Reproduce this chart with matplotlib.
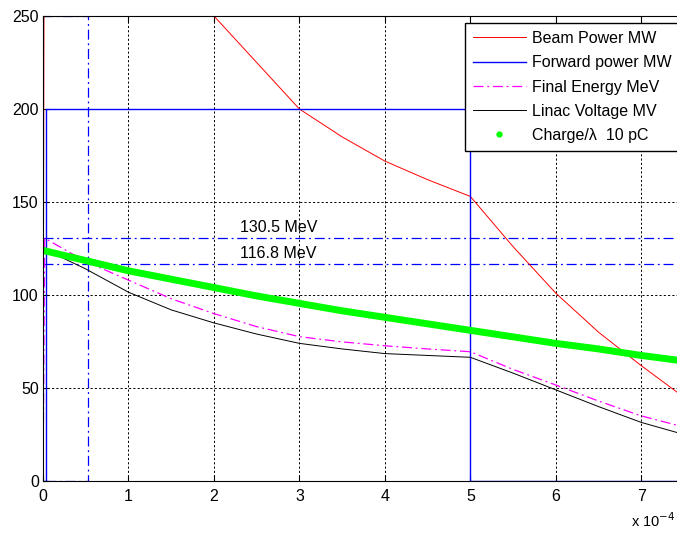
import matplotlib
matplotlib.use("Agg")
import matplotlib.pyplot as plt
from matplotlib.lines import Line2D

plt.rcParams['font.family'] = ['Liberation Sans', 'DejaVu Sans']

# time axis in units of 1e-4
beam_t = [0, 0.02, 0.5, 1.0, 1.5, 2.0, 2.5, 3.0, 3.5, 4.0, 4.5, 5.0, 5.5, 6.0, 6.5, 7.0, 7.5]
beam_p = [0, 450, 370, 320, 282, 250, 225, 200, 185, 172, 162, 153, 126, 101, 80, 62, 45]

fwd_t = [0, 0.03, 0.03, 5.0, 5.0, 7.5]
fwd_p = [0, 0, 200, 200, 0, 0]

energy_t = [0, 0.02, 0.5, 1.0, 1.5, 2.0, 2.5, 3.0, 3.5, 4.0, 4.5, 5.0, 5.5, 6.0, 6.5, 7.0, 7.5]
energy = [0, 130.5, 118, 108, 98, 90, 83, 77.6, 74.8, 72.7, 71, 69.5, 60, 51.6, 43, 35, 29]

volt_t = [0, 0.5, 1.0, 1.5, 2.0, 2.5, 3.0, 3.5, 4.0, 4.5, 5.0, 5.5, 6.0, 6.5, 7.0, 7.5]
volt = [125, 114, 101.5, 92, 85, 79, 74, 71, 68.5, 67.5, 66.5, 58, 49, 40, 31.5, 25]

charge_t = [0, 0.5, 1.0, 1.5, 2.0, 2.5, 3.0, 3.5, 4.0, 4.5, 5.0, 5.5, 6.0, 6.5, 7.0, 7.5]
charge = [124, 118.5, 113, 108.5, 104, 99.5, 95.5, 91.5, 88, 84.5, 81, 77.5, 74, 71, 67.5, 64.5]

window_t = 0.53
window_top = 250
e_levels = [130.5, 116.8]
e_labels = ['130.5 MeV', '116.8 MeV']

xticks = [0, 1, 2, 3, 4, 5, 6, 7]
yticks = [0, 50, 100, 150, 200, 250]

fs = 11.5
fig = plt.figure(figsize=(6.77, 5.33), dpi=100)
ax = fig.add_axes([43 / 677, 52 / 533, 641 / 677, 465 / 533])

ax.set_xlim(0, 7.5)
ax.set_ylim(0, 250)
ax.set_xticks(xticks)
ax.set_yticks(yticks)
ax.tick_params(direction='in', length=4, top=True, right=True, labelsize=fs)
ax.tick_params(axis='x', pad=6)
ax.tick_params(axis='y', pad=3)
ax.grid(True, color='black', linestyle=(0, (2.2, 2.2)), linewidth=0.7)

dashdot = (0, (8, 3, 1.5, 3))
# energy window box and levels
ax.plot([0, window_t, window_t, 0], [window_top, window_top, 0, 0],
        color='blue', linestyle=dashdot, linewidth=0.9)
for lev, lab in zip(e_levels, e_labels):
    ax.axhline(lev, color='blue', linestyle=dashdot, linewidth=0.9)
    ax.text(2.3, lev + 1.5, lab, fontsize=fs, va='bottom', ha='left')

ax.plot(beam_t, beam_p, color='red', linewidth=0.7, label='Beam Power MW')
ax.plot(fwd_t, fwd_p, color='blue', linewidth=1.0, label='Forward power MW')
ax.plot(energy_t, energy, color='magenta', linestyle=dashdot, linewidth=0.9,
        label='Final Energy MeV')
ax.plot(volt_t, volt, color='black', linewidth=0.7, label='Linac Voltage MV')
ax.plot(charge_t, charge, color='#00ff00', linewidth=5.0, solid_capstyle='butt')

handles, labels = ax.get_legend_handles_labels()
handles.append(Line2D([], [], color='#00ff00', marker='.', linestyle='none', markersize=7))
labels.append('Charge/λ  10 pC')
leg = ax.legend(handles, labels, loc='upper left', mode='expand',
                bbox_to_anchor=(465 / 677, 1 - 23 / 533, 230 / 677, 0),
                bbox_transform=fig.transFigure, fontsize=fs, fancybox=False, framealpha=1,
                edgecolor='black', borderpad=0.5, labelspacing=0.58, handlelength=3.3,
                handletextpad=0.4, borderaxespad=0)
leg.get_frame().set_linewidth(1.0)

fig.text(675 / 677, 1 - 521 / 533, r'x 10$^{-4}$', fontsize=fs - 1, va='center', ha='right')

fig.savefig('out.png', dpi=100)
